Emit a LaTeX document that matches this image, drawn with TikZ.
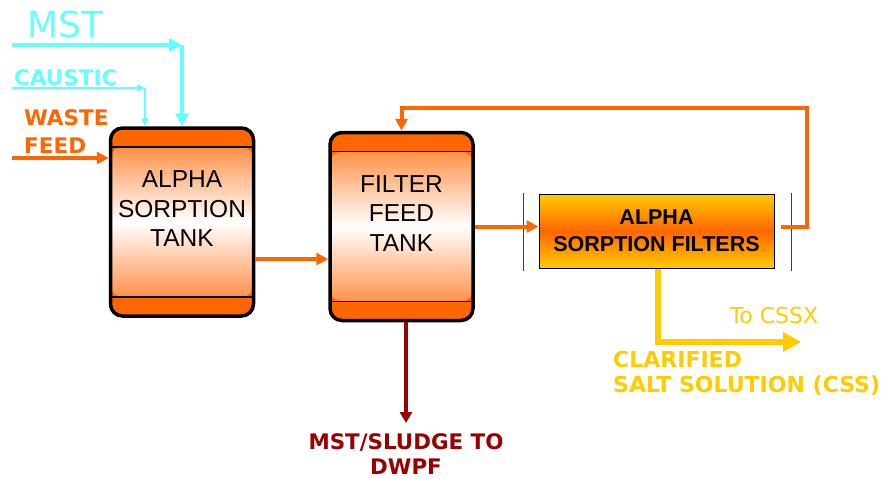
\documentclass[tikz,border=0pt]{standalone}
\usepackage{fontspec}
\setmainfont{Liberation Sans}
\newfontfamily\lblfont{DejaVu Sans}
\usetikzlibrary{arrows.meta}
\definecolor{orng}{HTML}{FF6600}
\definecolor{cyn}{HTML}{66FFFF}
\definecolor{ylw}{HTML}{FFCC00}
\definecolor{dred}{HTML}{990000}
\tikzset{
	tank/.style={draw, line width=3.5pt, rounded corners=12pt, fill=orng,
		minimum width=143pt, minimum height=188pt,
		path picture={
			\shade[top color=orng!90!white, bottom color=orng!90!white, middle color=white]
				([yshift=-19pt]path picture bounding box.north west) rectangle ([yshift=19pt]path picture bounding box.south east);
			\draw[line width=1.2pt] ([yshift=-19pt]path picture bounding box.north west) -- ([yshift=-19pt]path picture bounding box.north east)
				([yshift=19pt]path picture bounding box.south west) -- ([yshift=19pt]path picture bounding box.south east);
		}},
	tanktext/.style={align=center, font=\fontsize{24.5}{29.5}\selectfont},
	filt/.style={draw, line width=1pt, top color=ylw, bottom color=ylw, middle color=orng,
		minimum width=235pt, minimum height=74pt, align=center,
		font=\fontsize{21.5}{27}\selectfont\bfseries},
	lbl/.style={font=\lblfont\fontsize{21.5}{28}\selectfont\bfseries, inner sep=0pt},
	flow/.style={line width=4pt, orng, -{Triangle[length=12pt, width=12pt]}},
}
\begin{document}
\begin{tikzpicture}[x=1pt, y=-1pt, line join=miter]
	\useasboundingbox (0,0) rectangle (881,479);
	% vessels
	\node[tank] (ast) at (182,222) {};
	\node[tanktext] (asttxt) at ([yshift=13pt]ast.center) {ALPHA\\SORPTION\\TANK};
	\node[tank] (fft) at (401.5,226.5) {};
	\node[tanktext] (ffttxt) at ([yshift=13pt]fft.center) {FILTER\\FEED\\TANK};
	\node[filt] (asf) at (656.5,231) {ALPHA\\SORPTION FILTERS};
	\draw[line width=0.8pt, black!75] (523,193) -- (523,271) (791,193) -- (791,271);
	% labels
	\node[lbl, cyn, font=\lblfont\fontsize{36}{40}\selectfont, anchor=west] (mst) at (27,24) {MST};
	\node[lbl, cyn, anchor=west] (caus) at (14,78) {CAUSTIC};
	\node[lbl, orng, anchor=west, align=left] (waste) at (24,132) {WASTE\\FEED};
	\node[lbl, dred, anchor=north, align=center, font=\lblfont\fontsize{21.4}{25}\selectfont\bfseries] (sludge) at (406,433) {MST/SLUDGE TO\\DWPF};
	\node[lbl, ylw, font=\lblfont\fontsize{22}{28}\selectfont] (cssx) at (774,315) {To CSSX};
	\node[lbl, ylw, anchor=west, align=left, font=\lblfont\fontsize{22}{25}\selectfont\bfseries] (css) at (613,373) {CLARIFIED\\SALT SOLUTION (CSS)};
	% free ends
	\path
		(12,45) coordinate (mstin)
		(12,88) coordinate (causin)
		(12,158) coordinate (wastein)
		(807,108) coordinate (recyc)
		(801,342) coordinate (cssout)
		(406,423) coordinate (sludgeout)
	;
	\coordinate (causbend) at ([xshift=-37pt]ast.north |- causin);
	% feeds
	\draw[cyn, line width=4.5pt, -{Triangle[length=13pt, width=13pt]}] (mstin) -- (ast.north |- mstin);
	\draw[cyn, line width=4.5pt, -{Triangle[length=13pt, width=13pt]}] (ast.north |- mstin) -- (ast.north);
	\draw[cyn, line width=1.5pt, -{Triangle[length=8pt, width=7pt]}] (causin) -- (causbend);
	\draw[cyn, line width=1.5pt, -{Triangle[length=8pt, width=7pt]}] (causbend) -- (causbend |- ast.north);
	\draw[flow] (wastein) -- (wastein -| ast.west);
	% transfers
	\draw[flow] ([yshift=-37pt]ast.east) -- ([yshift=-37pt]ast.east -| fft.west);
	\draw[flow] (fft.east) -- (fft.east -| asf.west);
	\draw[flow] ([xshift=6pt]fft.east -| asf.east) -- (fft.east -| recyc) -- (recyc) -- (recyc -| fft.north) -- (fft.north);
	\draw[ylw, line width=6.5pt, -{Triangle[length=18pt, width=19pt]}] ([xshift=1.5pt]asf.south) -- ([xshift=1.5pt]asf.south |- cssout) -- (cssout);
	\draw[dred, line width=4pt, -{Triangle[length=11pt, width=12pt]}] (fft.south -| sludgeout) -- (sludgeout);
\end{tikzpicture}
\end{document}
